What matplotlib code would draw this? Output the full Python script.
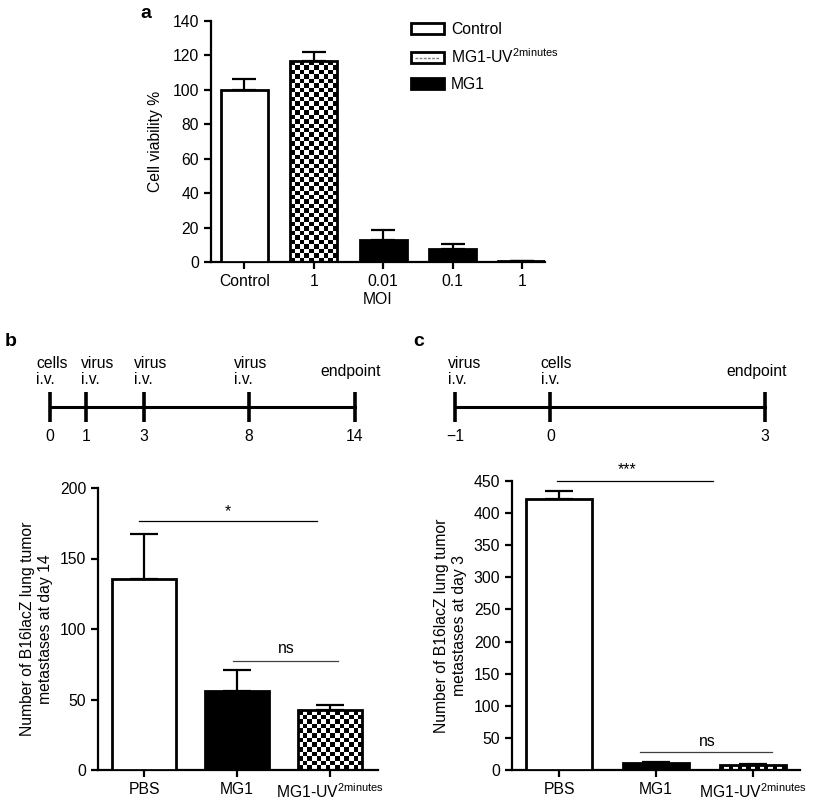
import numpy as np
import matplotlib
matplotlib.use('Agg')
import matplotlib.pyplot as plt
from matplotlib.patches import Rectangle
from matplotlib.lines import Line2D
from matplotlib.legend_handler import HandlerBase

plt.rcParams['font.family'] = ['Liberation Sans', 'DejaVu Sans']
plt.rcParams['mathtext.fontset'] = 'custom'
plt.rcParams['mathtext.rm'] = 'Liberation Sans'
plt.rcParams['mathtext.it'] = 'Liberation Sans'
FS = 11.3
plt.rcParams['font.size'] = FS

UV = r'MG1-UV$^{\mathrm{2minutes}}$'

# panel a
moi_labels = ['Control', '1', '0.01', '0.1', '1']
viability = [100, 116.7, 12.8, 7.4, 0.3]
viability_err = [6.1, 5.5, 5.8, 3.1, 0]
a_kind = ['open', 'checker', 'solid', 'solid', 'solid']

# panel b
b_groups = ['PBS', 'MG1', UV]
b_mets = [135.3, 56, 42.5]
b_err = [32.3, 14.8, 3.5]
b_kind = ['open', 'solid', 'checker']

# panel c
c_groups = ['PBS', 'MG1', UV]
c_mets = [421.4, 10.4, 7.3]
c_err = [13, 1.5, 1.5]
c_kind = ['open', 'solid', 'checker']

# timelines
tb_days = ['0', '1', '3', '8', '14']
tb_events = ['cells\ni.v.', 'virus\ni.v.', 'virus\ni.v.', 'virus\ni.v.', 'endpoint']
tb_pos = [0, 0.118, 0.308, 0.653, 1.0]
tb_text_x = [-0.046, 0.102, 0.275, 0.603, 0.885]

tc_days = ['\u22121', '0', '3']
tc_events = ['virus\ni.v.', 'cells\ni.v.', 'endpoint']
tc_pos = [0, 0.308, 1.0]
tc_text_x = [-0.023, 0.276, 0.874]

W, H = 821, 801
fig = plt.figure(figsize=(W / 100, H / 100), dpi=100)


def px_axes(x0, y0, x1, y1):
    return fig.add_axes([x0 / W, 1 - y1 / H, (x1 - x0) / W, (y1 - y0) / H])


def style(ax):
    for s in ['top', 'right']:
        ax.spines[s].set_visible(False)
    for s in ['left', 'bottom']:
        ax.spines[s].set_linewidth(1.6)
    ax.tick_params(axis='both', width=1.6, length=5, labelsize=FS, color='black')


def checker_fill(ax, rect, sq=4.5):
    x0, y0 = rect.get_x(), rect.get_y()
    x1, y1 = x0 + rect.get_width(), y0 + rect.get_height()
    p = ax.transData.transform([[x0, y0], [x1, y1]])
    nc = max(1, int(round(abs(p[1, 0] - p[0, 0]) / sq)))
    nr = max(1, int(round(abs(p[1, 1] - p[0, 1]) / sq)))
    board = np.add.outer(np.arange(nr), np.arange(nc)) % 2
    im = ax.imshow(board, cmap='gray', extent=(x0, x1, y0, y1), interpolation='nearest',
                   aspect='auto', zorder=2, origin='lower', vmin=0, vmax=1)
    im.set_clip_path(rect)


def bars(ax, vals, errs, kinds, width, capsize):
    x = np.arange(len(vals))
    fc = ['black' if k == 'solid' else 'white' for k in kinds]
    bs = ax.bar(x, vals, width=width, color=fc, edgecolor='black', linewidth=2, zorder=3)
    ax.errorbar(x, vals, yerr=[np.zeros(len(vals)), errs], fmt='none', ecolor='black',
                elinewidth=1.6, capsize=capsize, capthick=1.6, zorder=1)
    return bs


def finish_checker(ax, bs, kinds):
    for b, k in zip(bs, kinds):
        if k == 'checker':
            b.set_facecolor('none')
            checker_fill(ax, b)


# ---- panel a ----
axa = px_axes(211, 21, 545, 262)
style(axa)
bs = bars(axa, viability, viability_err, a_kind, 0.68, 8.5)
axa.set_xlim(-0.48, 4.33)
axa.set_ylim(0, 140)
axa.set_yticks(np.arange(0, 141, 20))
axa.set_xticks(range(len(moi_labels)))
axa.set_xticklabels(moi_labels)
axa.set_xlabel('MOI', fontsize=FS, labelpad=2)
axa.set_ylabel('Cell viability %', fontsize=FS, labelpad=7)
finish_checker(axa, bs, a_kind)


class CheckerHandler(HandlerBase):
    def create_artists(self, legend, orig_handle, xdescent, ydescent, width, height, fontsize, trans):
        frame = Rectangle((-xdescent, -ydescent), width, height, facecolor='white',
                          edgecolor='black', linewidth=2, transform=trans)
        mid = Line2D([-xdescent + 3, -xdescent + width - 3], [-ydescent + height / 2] * 2,
                     linestyle=(0, (2, 1)), color='0.5', linewidth=1, transform=trans)
        return [frame, mid]


h_open = Rectangle((0, 0), 1, 1, facecolor='white', edgecolor='black', linewidth=2)
h_check = Rectangle((0, 0), 1, 1, facecolor='white', edgecolor='black', linewidth=2)
h_solid = Rectangle((0, 0), 1, 1, facecolor='black', edgecolor='black', linewidth=2)
fig.legend([h_open, h_check, h_solid], ['Control', UV, 'MG1'],
           handler_map={h_check: CheckerHandler()},
           loc='upper left', bbox_to_anchor=(403 / W, 1 - 14 / H), frameon=False,
           fontsize=FS, handlelength=2.1, handleheight=0.65, handletextpad=0.45,
           labelspacing=0.68, borderpad=0)

# ---- panel b bars ----
axb = px_axes(98, 488, 378, 770)
style(axb)
bs = bars(axb, b_mets, b_err, b_kind, 0.69, 10)
axb.set_xlim(-0.495, 2.516)
axb.set_ylim(0, 200)
axb.set_yticks([0, 50, 100, 150, 200])
axb.set_xticks(range(3))
axb.set_xticklabels(b_groups)
axb.set_ylabel('Number of B16lacZ lung tumor\nmetastases at day 14', fontsize=FS, labelpad=5)
finish_checker(axb, bs, b_kind)
axb.plot([-0.05, 1.86], [176.6, 176.6], color='black', lw=0.9, clip_on=False)
axb.text(0.9, 178, '*', ha='center', va='bottom', fontsize=FS)
axb.plot([0.96, 2.09], [77.4, 77.4], color='0.25', lw=0.9)
axb.text(1.53, 81, 'ns', ha='center', va='bottom', fontsize=FS)

# ---- panel c bars ----
axc = px_axes(512, 481, 800, 770)
style(axc)
bs = bars(axc, c_mets, c_err, c_kind, 0.68, 10)
axc.set_xlim(-0.485, 2.485)
axc.set_ylim(0, 450)
axc.set_yticks(np.arange(0, 451, 50))
axc.set_xticks(range(3))
axc.set_xticklabels(c_groups)
axc.set_ylabel('Number of B16lacZ lung tumor\nmetastases at day 3', fontsize=FS, labelpad=5)
finish_checker(axc, bs, c_kind)
axc.plot([-0.02, 1.59], [450.4, 450.4], color='black', lw=0.9, clip_on=False)
axc.text(0.7, 456, '***', ha='center', va='bottom', fontsize=FS)
axc.plot([0.83, 2.2], [28.5, 28.5], color='0.25', lw=0.9)
axc.text(1.53, 33, 'ns', ha='center', va='bottom', fontsize=FS)


# ---- timelines ----
def timeline(x0, x1, pos, days, events, text_x):
    ax = px_axes(x0, 350, x1, 450)
    ax.set_xlim(0, 1)
    ax.set_ylim(0, 100)
    ax.axis('off')
    ax.plot([pos[0], pos[-1]], [43.5, 43.5], color='black', lw=2.2, clip_on=False)
    ax.vlines(pos, 28.3, 58.3, color='black', lw=2.6, clip_on=False)
    for p, d in zip(pos, days):
        ax.text(p, 13.5, d, ha='center', va='center', fontsize=FS)
    for tx, e in zip(text_x, events):
        ax.text(tx, 78.5, e, ha='left', va='center', fontsize=FS, linespacing=1.15)
    return ax


timeline(50, 355, tb_pos, tb_days, tb_events, tb_text_x)
timeline(455, 765, tc_pos, tc_days, tc_events, tc_text_x)

# panel letters
fig.text(140 / W, 1 - 13 / H, 'a', fontsize=14, fontweight='bold', ha='left', va='center')
fig.text(5 / W, 1 - 342 / H, 'b', fontsize=14, fontweight='bold', ha='left', va='center')
fig.text(413 / W, 1 - 342 / H, 'c', fontsize=14, fontweight='bold', ha='left', va='center')

fig.savefig('out.png', dpi=100)
